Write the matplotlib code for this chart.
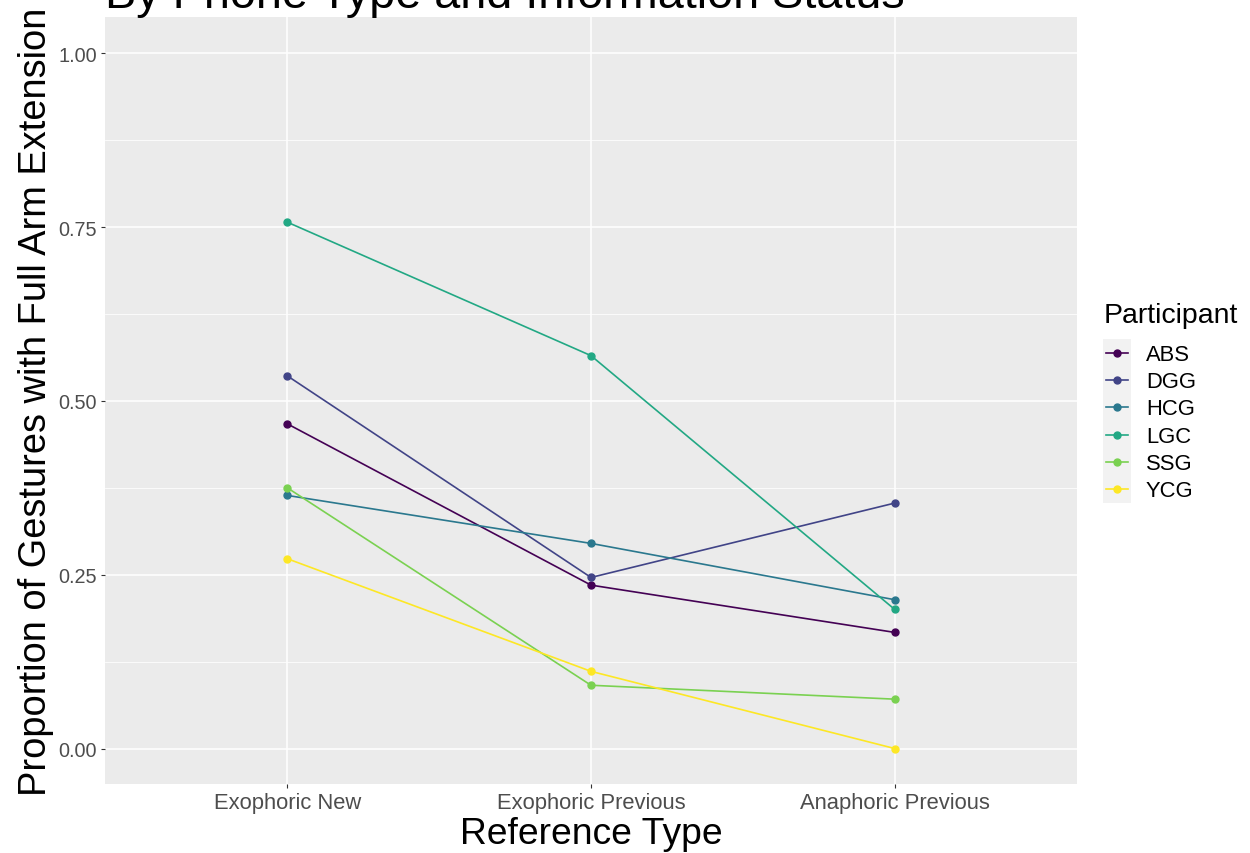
import numpy as np
import matplotlib
matplotlib.use("Agg")
import matplotlib.pyplot as plt
from matplotlib.lines import Line2D
from matplotlib.patches import Rectangle

plt.rcParams["font.family"] = ["Liberation Sans", "DejaVu Sans"]

ref_types = ["Exophoric New", "Exophoric Previous", "Anaphoric Previous"]
participants = ["ABS", "DGG", "HCG", "LGC", "SSG", "YCG"]
colors = ["#440154", "#414487", "#2A788E", "#22A884", "#7AD151", "#FDE725"]

abs_vals = [0.467, 0.235, 0.167]
dgg_vals = [0.536, 0.246, 0.353]
hcg_vals = [0.364, 0.295, 0.214]
lgc_vals = [0.757, 0.565, 0.200]
ssg_vals = [0.375, 0.091, 0.071]
ycg_vals = [0.273, 0.111, 0.000]
series = [abs_vals, dgg_vals, hcg_vals, lgc_vals, ssg_vals, ycg_vals]

W, H = 1250, 854
fig = plt.figure(figsize=(W / 100, H / 100), dpi=100)
# panel: x 105..1077, y 18..785 (pixels from top)
ax = fig.add_axes([105 / W, 1 - 785 / H, (1077 - 105) / W, (785 - 18) / H])
ax.set_facecolor("#EBEBEB")
for s in ax.spines.values():
    s.set_visible(False)

LW, MS = 1.2, 5.0
x = np.arange(1, len(ref_types) + 1)
for name, vals, c in zip(participants, series, colors):
    ax.plot(x, vals, color=c, lw=LW, marker="o", ms=MS, label=name, zorder=3)

ax.set_xlim(0.4, 3.6)
ax.set_ylim(-0.051, 1.052)
ax.set_yticks([0, 0.25, 0.5, 0.75, 1.0])
ax.set_yticklabels(["0.00", "0.25", "0.50", "0.75", "1.00"])
ax.set_yticks([0.125, 0.375, 0.625, 0.875], minor=True)
ax.set_xticks(x)
ax.set_xticklabels(ref_types)
ax.grid(True, which="major", color="white", lw=1.1, zorder=0)
ax.grid(True, which="minor", axis="y", color="white", lw=0.55, zorder=0)
ax.set_axisbelow(True)
ax.tick_params(axis="both", which="major", length=3, width=0.8, color="#333333",
               labelcolor="#4D4D4D", pad=3)
ax.tick_params(axis="y", labelsize=14.3)
ax.tick_params(axis="x", labelsize=15.8)
ax.tick_params(axis="y", which="minor", length=0)

ax.set_xlabel("Reference Type", fontsize=26.8, labelpad=2)
ax.set_ylabel("Proportion of Gestures with Full Arm Extension", fontsize=27.4, labelpad=3)

fig.text(105 / W, 1 - 8 / H, "By Phone Type and Information Status", fontsize=33.7,
         ha="left", va="baseline")

# legend drawn by hand in pixel positions (ggplot-like keys)
def fx(px):
    return px / W

def fy(py):
    return 1 - py / H

fig.text(fx(1104), fy(316), "Participant", fontsize=20.5, ha="left", va="center")
key_h = 27.2
first = 354
fig.patches.append(Rectangle((fx(1103), fy(first - key_h / 2 + key_h * len(participants))),
                             28 / W, key_h * len(participants) / H,
                             transform=fig.transFigure, facecolor="#F2F2F2",
                             edgecolor="none", zorder=1))
for i, (name, c) in enumerate(zip(participants, colors)):
    yy = fy(first + key_h * i)
    fig.lines.append(Line2D([fx(1106), fx(1128)], [yy, yy], color=c, lw=LW,
                            transform=fig.transFigure, zorder=2))
    fig.lines.append(Line2D([fx(1117)], [yy], color=c, marker="o", ms=MS,
                            transform=fig.transFigure, zorder=3))
    fig.text(fx(1146), fy(first + key_h * i + 1.5), name, fontsize=15.8,
             ha="left", va="center")

fig.savefig("out.png", dpi=100)
